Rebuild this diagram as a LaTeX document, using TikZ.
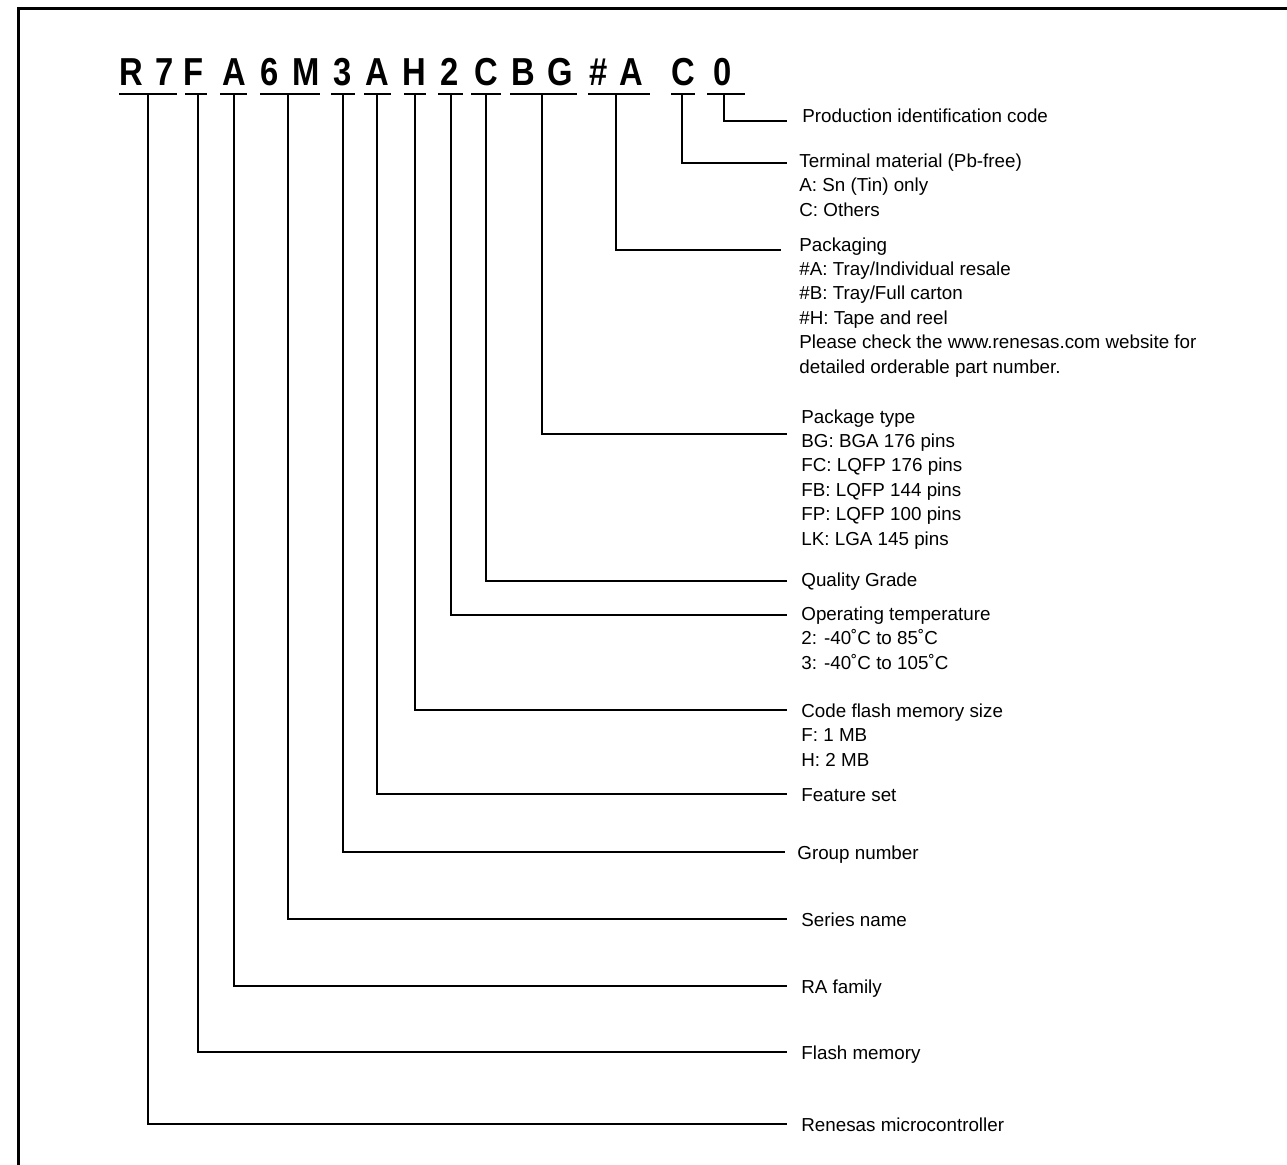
\documentclass[tikz,border=0pt]{standalone}
\usepackage{fontspec}
\setmainfont{Liberation Sans}
\newfontfamily\partfont[FakeStretch=0.84,BoldFont={Liberation Sans Bold}]{Liberation Sans}
\begin{document}
\begin{tikzpicture}[x=0.5pt,y=-0.5pt,
    digit/.style={font=\partfont\fontsize{19.5}{20}\selectfont\bfseries, anchor=base, inner sep=0pt},
    desc/.style={font=\fontsize{9.4}{12.2}\selectfont, anchor=base west, align=left, inner sep=0pt},
    uline/.style={line width=0.75pt},
    leader/.style={line width=0.75pt}]
    \useasboundingbox (0,0) rectangle (1287,1164);

    % Outer frame (runs off the page on the right and bottom)
    \draw[line width=1.5pt] (18.5,1175) -- (18.5,8.5) -- (1300,8.5);

    % Part number characters
    \node[digit] (chR)  at (131,85) {R};
    \node[digit] (ch7)  at (165,85) {7};
    \node[digit] (chF)  at (194,85) {F};
    \node[digit] (chA)  at (234,85) {A};
    \node[digit] (ch6)  at (270,85) {6};
    \node[digit] (chM)  at (306,85) {M};
    \node[digit] (ch3)  at (343,85) {3};
    \node[digit] (chA2) at (377,85) {A};
    \node[digit] (chH)  at (414,85) {H};
    \node[digit] (ch2)  at (450,85) {2};
    \node[digit] (chC)  at (486,85) {C};
    \node[digit] (chB)  at (523,85) {B};
    \node[digit] (chG)  at (560,85) {G};
    \node[digit] (chHs) at (599,85) {\#};
    \node[digit] (chA3) at (631,85) {A};
    \node[digit] (chC2) at (683,85) {C};
    \node[digit] (ch0)  at (723,85) {0};

    % Underlines and their tap points
    \draw[uline] (119,94) -- (177,94);  \coordinate (tRS)  at (148,94);
    \draw[uline] (185,94) -- (207,94);  \coordinate (tFM)  at (198,94);
    \draw[uline] (220,94) -- (247,94);  \coordinate (tFam) at (234,94);
    \draw[uline] (260,94) -- (320,94);  \coordinate (tSer) at (288,94);
    \draw[uline] (331,94) -- (355,94);  \coordinate (tGrp) at (343,94);
    \draw[uline] (364,94) -- (391,94);  \coordinate (tFea) at (377,94);
    \draw[uline] (404,94) -- (426,94);  \coordinate (tMem) at (415,94);
    \draw[uline] (438,94) -- (463,94);  \coordinate (tTmp) at (451,94);
    \draw[uline] (471,94) -- (501,94);  \coordinate (tQty) at (486,94);
    \draw[uline] (510,94) -- (577,94);  \coordinate (tPkg) at (542,94);
    \draw[uline] (588,94) -- (650,94);  \coordinate (tPck) at (616,94);
    \draw[uline] (671,94) -- (695,94);  \coordinate (tTrm) at (682,94);
    \draw[uline] (707,94) -- (745,94);  \coordinate (tPid) at (724,94);

    % Leader ends
    \coordinate (ePid) at (787,121);
    \coordinate (eTrm) at (787,163);
    \coordinate (ePck) at (781,250);
    \coordinate (ePkg) at (787,434);
    \coordinate (eQty) at (787,581);
    \coordinate (eTmp) at (787,615);
    \coordinate (eMem) at (787,710);
    \coordinate (eFea) at (787,794);
    \coordinate (eGrp) at (785,852);
    \coordinate (eSer) at (787,919);
    \coordinate (eFam) at (787,986);
    \coordinate (eFM)  at (787,1052);
    \coordinate (eRS)  at (787,1124);

    % Descriptions (placed by the baseline of their last line)
    \node[desc] (lPid) at (802,122) {Production identification code};
    \node[desc] (lTrm) at (799,216) {Terminal material (Pb-free)\\A: Sn (Tin) only\\C: Others};
    \node[desc] (lPck) at (799,373) {Packaging\\\#A: Tray/Individual resale\\\#B: Tray/Full carton\\\#H: Tape and reel\\Please check the www.renesas.com website for\\detailed orderable part number.};
    \node[desc] (lPkg) at (801,545) {Package type\\BG: BGA 176 pins\\FC: LQFP 176 pins\\FB: LQFP 144 pins\\FP: LQFP 100 pins\\LK: LGA 145 pins};
    \node[desc] (lQty) at (801,586) {Quality Grade};
    \node[desc] (lTmp) at (801,669) {Operating temperature\\2: -40\char"02DA C to 85\char"02DA C\\3: -40\char"02DA C to 105\char"02DA C};
    \node[desc] (lMem) at (801,766) {Code flash memory size\\F: 1 MB\\H: 2 MB};
    \node[desc] (lFea) at (801,801) {Feature set};
    \node[desc] (lGrp) at (797,859) {Group number};
    \node[desc] (lSer) at (801,926) {Series name};
    \node[desc] (lFam) at (801,993) {RA family};
    \node[desc] (lFM)  at (801,1059) {Flash memory};
    \node[desc] (lRS)  at (801,1131) {Renesas microcontroller};

    % Leaders
    \draw[leader] (tPid) |- (ePid);
    \draw[leader] (tTrm) |- (eTrm);
    \draw[leader] (tPck) |- (ePck);
    \draw[leader] (tPkg) |- (ePkg);
    \draw[leader] (tQty) |- (eQty);
    \draw[leader] (tTmp) |- (eTmp);
    \draw[leader] (tMem) |- (eMem);
    \draw[leader] (tFea) |- (eFea);
    \draw[leader] (tGrp) |- (eGrp);
    \draw[leader] (tSer) |- (eSer);
    \draw[leader] (tFam) |- (eFam);
    \draw[leader] (tFM)  |- (eFM);
    \draw[leader] (tRS)  |- (eRS);

\end{tikzpicture}
\end{document}
